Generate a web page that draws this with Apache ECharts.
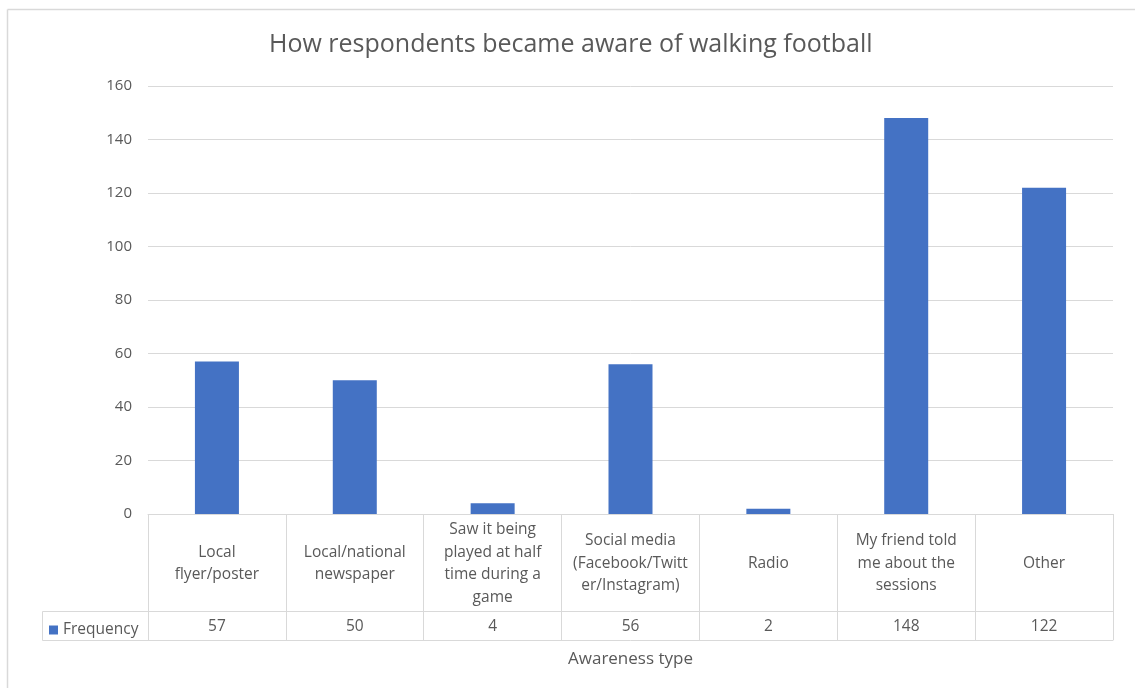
<!DOCTYPE html>
<html>
<head>
<meta charset="utf-8">
<script src="https://cdn.jsdelivr.net/npm/echarts@6/dist/echarts.min.js"></script>
<style>html,body{margin:0;padding:0;background:#fff;}#c{width:1135px;height:688px;}</style>
</head>
<body>
<div id="c"></div>
<script>
const categories = [
  'Local\nflyer/poster',
  'Local/national\nnewspaper',
  'Saw it being\nplayed at half\ntime during a\ngame',
  'Social media\n(Facebook/Twitt\ner/Instagram)',
  'Radio',
  'My friend told\nme about the\nsessions',
  'Other'
];
const frequency = [57, 50, 4, 56, 2, 148, 122];
const yTicks = { min: 0, max: 160, interval: 20 };
const seriesName = 'Frequency';
const titleText = 'How respondents became aware of walking football';
const xTitle = 'Awareness type';

const FONT = '"Open Sans", "Noto Sans", sans-serif';
const TXT = '#595959';
const LINE = '#d9d9d9';
const G = { left: 148, right: 22, top: 86, bottom: 174 };
const ROW1 = 97, ROW2 = 126;
const H = 688, W = 1135;
const axisBottom = H - G.bottom;

const chart = echarts.init(document.getElementById('c'), null, { renderer: 'canvas' });
chart.setOption({
  animation: false,
  backgroundColor: '#fff',
  title: {
    text: titleText, left: 264, top: 27,
    textStyle: { color: TXT, fontSize: 25, fontWeight: 'normal', fontFamily: FONT }
  },
  legend: {
    data: [seriesName], left: 44, top: axisBottom + ROW1 + 6,
    icon: 'rect', itemWidth: 9, itemHeight: 9, itemGap: 5,
    textStyle: { color: TXT, fontSize: 15.5, fontFamily: FONT }
  },
  grid: { left: G.left, right: G.right, top: G.top, bottom: G.bottom, containLabel: false },
  xAxis: [
    {
      type: 'category', data: categories, position: 'bottom',
      axisLine: { show: true, lineStyle: { color: LINE, width: 1 } },
      axisTick: { show: true, length: ROW2, alignWithLabel: false, lineStyle: { color: LINE } },
      axisLabel: { interval: 0, margin: ROW1 / 2 + 1, verticalAlign: 'middle', lineHeight: 22.5,
        color: TXT, fontSize: 15.5, fontFamily: FONT, align: 'center' },
      splitLine: { show: false }
    },
    {
      type: 'category', data: categories, position: 'bottom', offset: ROW1,
      axisLine: { show: true, lineStyle: { color: LINE, width: 1 } },
      axisTick: { show: false },
      axisLabel: { interval: 0, margin: (ROW2 - ROW1) / 2 + 1, verticalAlign: 'middle',
        color: TXT, fontSize: 15.5, fontFamily: FONT,
        formatter: (v, i) => String(frequency[i]) },
      splitLine: { show: false }
    },
    {
      type: 'category', data: categories, position: 'bottom', offset: ROW2,
      axisLine: { show: true, lineStyle: { color: LINE, width: 1 } },
      axisTick: { show: false }, axisLabel: { show: false },
      name: xTitle, nameLocation: 'middle', nameGap: 19,
      nameTextStyle: { color: TXT, fontSize: 17, fontFamily: FONT, verticalAlign: 'middle' },
      splitLine: { show: false }
    }
  ],
  yAxis: {
    type: 'value', min: yTicks.min, max: yTicks.max, interval: yTicks.interval,
    axisLine: { show: false }, axisTick: { show: false },
    axisLabel: { color: TXT, fontSize: 15, fontFamily: FONT, margin: 16 },
    splitLine: { lineStyle: { color: LINE, width: 1 } }
  },
  series: [{
    name: seriesName, type: 'bar', xAxisIndex: 0, data: frequency, barWidth: 44,
    itemStyle: { color: '#4472C4' }
  }],
  graphic: [
    { type: 'rect', silent: true, shape: { x: 42.5, y: axisBottom + ROW1 + 0.5, width: G.left - 42, height: ROW2 - ROW1 },
      style: { fill: 'none', stroke: LINE, lineWidth: 1 } },
    { type: 'line', silent: true, shape: { x1: 7.5, y1: 9.5, x2: W, y2: 9.5 }, style: { stroke: LINE, lineWidth: 1.5 } },
    { type: 'line', silent: true, shape: { x1: 7.5, y1: 9.5, x2: 7.5, y2: H }, style: { stroke: LINE, lineWidth: 1.5 } }
  ]
});
</script>
</body>
</html>
